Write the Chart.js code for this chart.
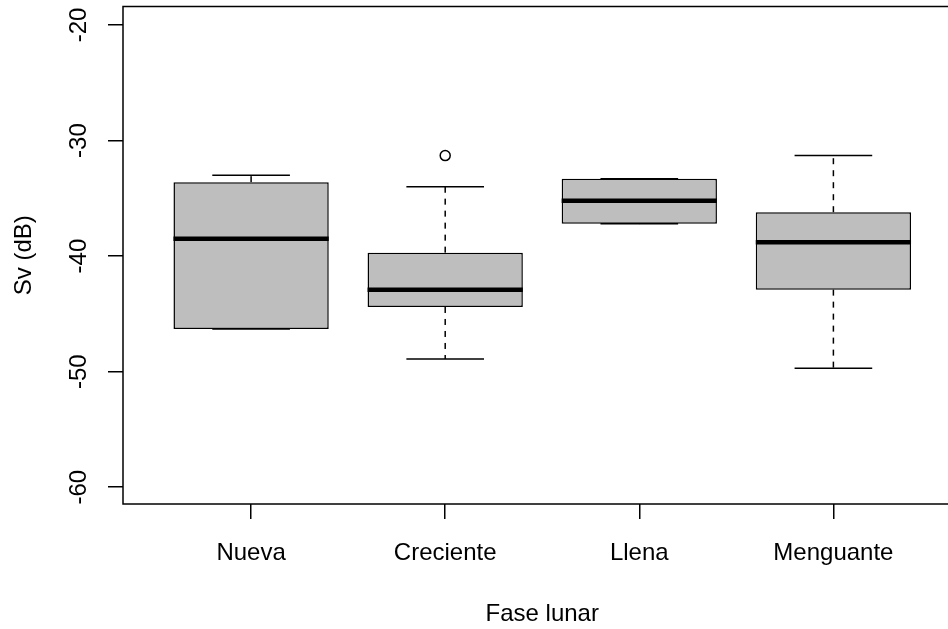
<!DOCTYPE html>
<html>
<head>
<meta charset="utf-8">
<script src="https://cdn.jsdelivr.net/npm/chart.js@4"></script>
<style>
  html, body { margin: 0; padding: 0; overflow: hidden; background: #fff; }
  #boxplot { display: block; width: 968px; height: 629px; }
</style>
</head>
<body>
<canvas id="boxplot" width="968" height="629"></canvas>
<script>
const ctx = document.getElementById('boxplot');

const PHASES = ['Nueva', 'Creciente', 'Llena', 'Menguante'];
const WHISKER_LOW = [-46.3, -48.9, -37.2, -49.7];
const Q1 = [-46.3, -44.4, -37.2, -42.9];
const MEDIAN = [-38.5, -42.9, -35.2, -38.8];
const Q3 = [-33.6, -39.7, -33.3, -36.2];
const WHISKER_HIGH = [-33.0, -34.0, -33.3, -31.3];
const OUTLIERS = [[], [-31.3], [], []];
const Y_TICKS = [-60, -50, -40, -30, -20];

Chart.defaults.font.family = "'Liberation Sans', Arial, sans-serif";
Chart.defaults.font.size = 24;
Chart.defaults.color = '#000';

const boxData = PHASES.map((p, i) => ({ x: i + 1, y: [Q1[i], Q3[i]] }));
let outlierData = [];
OUTLIERS.forEach((vals, i) => {
  vals.forEach((v) => outlierData.push({ x: i + 1, y: v }));
});

function segment(c, x0, y0, x1, y1) {
  c.beginPath();
  c.moveTo(x0, y0);
  c.lineTo(x1, y1);
  c.stroke();
}

// whiskers, caps, medians and the frame round the plot
const boxplotLines = {
  id: 'boxplotLines',
  beforeDatasetsDraw(chart) {
    const c = chart.ctx;
    const { x, y } = chart.scales;
    c.save();
    c.strokeStyle = '#000';
    c.lineWidth = 1.5;
    PHASES.forEach((p, i) => {
      const cx = x.getPixelForValue(i + 1);
      const capL = x.getPixelForValue(i + 1 - 0.2);
      const capR = x.getPixelForValue(i + 1 + 0.2);
      c.setLineDash([6, 6]);
      segment(c, cx, y.getPixelForValue(Q3[i]), cx, y.getPixelForValue(WHISKER_HIGH[i]));
      segment(c, cx, y.getPixelForValue(Q1[i]), cx, y.getPixelForValue(WHISKER_LOW[i]));
      c.setLineDash([]);
      segment(c, capL, y.getPixelForValue(WHISKER_HIGH[i]), capR, y.getPixelForValue(WHISKER_HIGH[i]));
      segment(c, capL, y.getPixelForValue(WHISKER_LOW[i]), capR, y.getPixelForValue(WHISKER_LOW[i]));
    });
    c.restore();
  },
  afterDatasetsDraw(chart) {
    const c = chart.ctx;
    const { x, y } = chart.scales;
    c.save();
    c.strokeStyle = '#000';
    c.lineWidth = 4.5;
    PHASES.forEach((p, i) => {
      const my = y.getPixelForValue(MEDIAN[i]);
      segment(c, x.getPixelForValue(i + 1 - 0.4), my, x.getPixelForValue(i + 1 + 0.4), my);
    });
    const a = chart.chartArea;
    c.lineWidth = 1.5;
    c.strokeRect(a.left, a.top, a.right - a.left, a.bottom - a.top);
    c.restore();
  }
};

const config = {
  type: 'bar',
  data: {
    datasets: [
      {
        label: 'Sv',
        data: boxData,
        backgroundColor: '#BEBEBE',
        borderColor: '#000',
        borderWidth: 1.5,
        borderSkipped: false,
        barPercentage: 0.8,
        categoryPercentage: 1.0,
        order: 2
      },
      {
        type: 'scatter',
        label: 'atípicos',
        data: outlierData,
        pointStyle: 'circle',
        pointRadius: 5,
        pointBorderWidth: 1.5,
        borderColor: '#000',
        backgroundColor: 'rgba(0,0,0,0)',
        order: 1
      }
    ]
  },
  plugins: [boxplotLines],
  options: {
    responsive: false,
    animation: false,
    layout: { padding: { top: 6, left: 0, right: 0, bottom: 0 } },
    plugins: {
      legend: { display: false },
      tooltip: { enabled: false }
    },
    scales: {
      x: {
        type: 'linear',
        min: 0.34,
        max: 4.66,
        offset: false,
        afterBuildTicks: (s) => { s.ticks = PHASES.map((p, i) => ({ value: i + 1 })); },
        afterFit: (s) => { s.height = 125; s.paddingLeft = 0; s.paddingRight = 0; },
        border: { display: false },
        grid: {
          offset: false,
          drawOnChartArea: false,
          drawTicks: true,
          tickLength: 15,
          color: '#000',
          lineWidth: 1.5
        },
        ticks: {
          autoSkip: false,
          maxRotation: 0,
          padding: 20,
          callback: (v) => PHASES[v - 1]
        },
        title: {
          display: true,
          text: 'Fase lunar',
          padding: { top: 0, bottom: 0 }
        }
      },
      y: {
        min: -61.45,
        max: -18.4,
        afterBuildTicks: (s) => { s.ticks = Y_TICKS.map((v) => ({ value: v })); },
        afterFit: (s) => { s.width = 123; s.paddingTop = 0; s.paddingBottom = 0; },
        border: { display: false },
        grid: {
          drawOnChartArea: false,
          drawTicks: true,
          tickLength: 15,
          color: '#000',
          lineWidth: 1.5
        },
        ticks: {
          autoSkip: false,
          minRotation: 90,
          maxRotation: 90,
          crossAlign: 'center',
          padding: 11,
          callback: (v) => String(v)
        },
        title: {
          display: true,
          text: 'Sv (dB)',
          padding: { top: 10, bottom: 0 }
        }
      }
    }
  }
};

new Chart(ctx, config);
</script>
</body>
</html>
